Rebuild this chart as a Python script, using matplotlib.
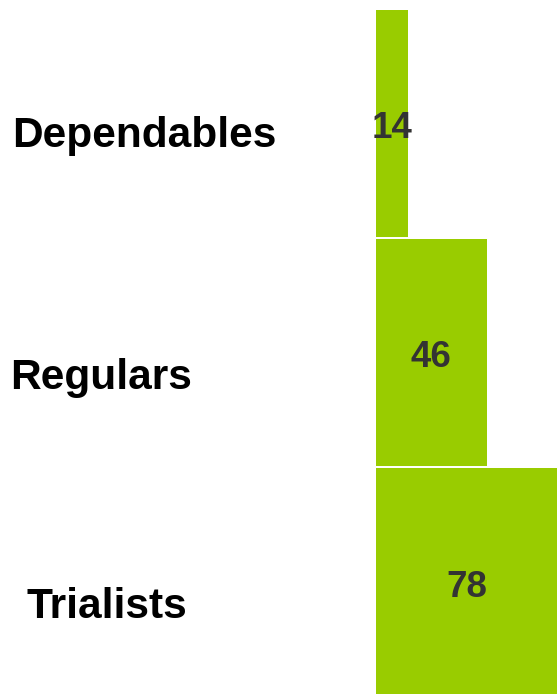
import matplotlib
matplotlib.use("Agg")
import matplotlib.pyplot as plt
import matplotlib.transforms as mtransforms

categories = ["Dependables", "Regulars", "Trialists"]
values = [14, 46, 78]

GREEN = "#99CC00"
TEXT_DARK = "#333333"

plt.rcParams['font.family'] = ['Liberation Sans', 'DejaVu Sans']

fig = plt.figure(figsize=(5.57, 6.94), dpi=100)
W, H = 557, 694
ax = fig.add_axes([376 / W, 0, 1 - 376 / W, 1])

pos = list(range(len(categories)))
ax.barh(pos, values, height=0.99, color=GREEN, left=0)

ax.set_xlim(1.21, 74.5)
ax.set_ylim(2.491, -0.539)
ax.axis('off')

x0, x1 = ax.get_xlim()
for p, v in zip(pos, values):
    cx = (x0 + min(v, x1)) / 2
    tr = mtransforms.offset_copy(ax.transData, fig=fig, x=0, y=-15, units='dots')
    ax.text(cx, p, str(v), transform=tr, ha='center', va='baseline',
            fontsize=26.5, fontweight='bold', color=TEXT_DARK)

# category labels placed at left
label_x = [144.5 / W, 101 / W, 106.5 / W]
label_dy = [23.5, 36.5, 36.0]
blend = mtransforms.blended_transform_factory(fig.transFigure, ax.transData)
for p, c, lx, dy in zip(pos, categories, label_x, label_dy):
    tr = mtransforms.offset_copy(blend, fig=fig, x=0, y=-dy, units='dots')
    fig.text(lx, p, c, transform=tr, ha='center', va='baseline',
             fontsize=30.5, fontweight='bold', color='black')

fig.savefig("out.png", dpi=100)
